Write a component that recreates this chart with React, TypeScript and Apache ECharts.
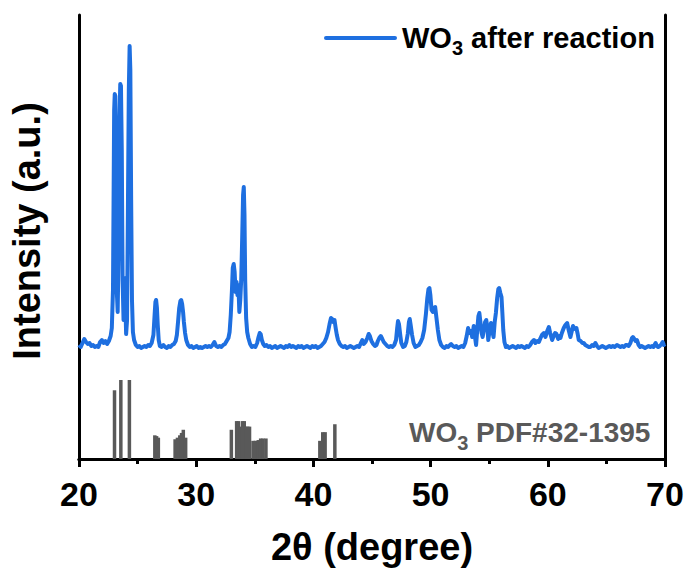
import React, { useEffect, useRef } from "react";
import * as echarts from "echarts";

// 2θ range and tick labels
const xMin = 20;
const xMax = 70;
const xInterval = 10;

// Measured pattern: [2θ (degree), intensity (a.u.)]
const xrdData: [number, number][] = [
  [20.0, 114], [20.15, 112], [20.3, 116], [20.45, 120], [20.6, 117], [20.75, 115], [20.9, 116],
  [21.05, 113], [21.2, 114], [21.35, 112], [21.5, 113], [21.65, 112], [21.8, 117], [21.95, 119],
  [22.1, 116], [22.25, 118], [22.4, 115], [22.55, 118], [22.7, 123], [22.8, 131], [22.9, 169],
  [22.95, 259], [23.0, 349], [23.05, 365], [23.1, 363], [23.15, 299], [23.22, 169], [23.3, 147],
  [23.38, 209], [23.45, 339], [23.52, 375], [23.58, 373], [23.65, 309], [23.72, 179], [23.8, 139],
  [23.88, 181], [23.95, 159], [24.02, 125], [24.1, 139], [24.18, 259], [24.25, 369], [24.32, 413],
  [24.38, 389], [24.45, 259], [24.52, 159], [24.6, 127], [24.7, 119], [24.85, 114], [25.0, 112],
  [25.15, 113], [25.3, 111], [25.45, 112], [25.6, 113], [25.75, 112], [25.9, 114], [26.05, 113],
  [26.2, 116], [26.35, 124], [26.45, 144], [26.52, 157], [26.58, 159], [26.65, 151], [26.72, 134],
  [26.8, 119], [26.9, 113], [27.05, 112], [27.2, 114], [27.35, 112], [27.5, 111], [27.65, 113],
  [27.8, 112], [27.95, 114], [28.1, 115], [28.25, 118], [28.35, 124], [28.45, 137], [28.55, 151],
  [28.65, 158], [28.72, 159], [28.8, 155], [28.88, 147], [28.95, 137], [29.05, 126], [29.15, 119],
  [29.3, 114], [29.45, 112], [29.6, 113], [29.75, 111], [29.9, 112], [30.05, 113], [30.2, 111],
  [30.35, 112], [30.5, 111], [30.65, 112], [30.8, 113], [30.95, 112], [31.1, 113], [31.25, 112],
  [31.4, 114], [31.55, 117], [31.7, 113], [31.85, 112], [32.0, 113], [32.15, 112], [32.3, 114],
  [32.45, 115], [32.6, 118], [32.75, 121], [32.85, 127], [32.95, 144], [33.05, 169], [33.12, 191],
  [33.2, 195], [33.28, 187], [33.36, 167], [33.44, 177], [33.52, 164], [33.6, 174], [33.68, 147],
  [33.76, 159], [33.84, 179], [33.92, 219], [34.0, 264], [34.06, 272], [34.12, 244], [34.18, 179],
  [34.26, 141], [34.35, 127], [34.45, 121], [34.6, 115], [34.75, 112], [34.9, 113], [35.05, 112],
  [35.2, 116], [35.32, 122], [35.42, 126], [35.5, 125], [35.6, 119], [35.72, 115], [35.85, 113],
  [36.0, 114], [36.15, 112], [36.3, 113], [36.45, 111], [36.6, 112], [36.75, 113], [36.9, 111],
  [37.05, 112], [37.2, 113], [37.35, 112], [37.5, 111], [37.65, 113], [37.8, 112], [37.95, 114],
  [38.1, 112], [38.25, 113], [38.4, 112], [38.55, 111], [38.7, 113], [38.85, 112], [39.0, 113],
  [39.15, 111], [39.3, 112], [39.45, 113], [39.6, 112], [39.75, 111], [39.9, 113], [40.05, 112],
  [40.2, 113], [40.35, 111], [40.5, 112], [40.65, 113], [40.8, 115], [40.95, 117], [41.1, 121],
  [41.25, 127], [41.38, 135], [41.5, 141], [41.6, 140], [41.7, 137], [41.8, 139], [41.9, 131],
  [42.0, 124], [42.1, 119], [42.25, 115], [42.4, 113], [42.55, 112], [42.7, 113], [42.85, 111],
  [43.0, 112], [43.15, 113], [43.3, 112], [43.45, 111], [43.6, 112], [43.75, 113], [43.9, 112],
  [44.05, 116], [44.17, 119], [44.3, 115], [44.45, 117], [44.6, 121], [44.72, 125], [44.82, 123],
  [44.95, 118], [45.1, 115], [45.25, 113], [45.38, 114], [45.5, 118], [45.62, 121], [45.75, 123],
  [45.88, 120], [46.0, 117], [46.15, 115], [46.3, 113], [46.45, 112], [46.6, 113], [46.75, 112],
  [46.9, 114], [47.05, 119], [47.15, 131], [47.22, 138], [47.3, 135], [47.4, 125], [47.5, 116],
  [47.65, 112], [47.8, 113], [47.93, 117], [48.05, 125], [48.15, 137], [48.22, 140], [48.3, 134],
  [48.42, 124], [48.55, 116], [48.7, 112], [48.85, 113], [49.0, 114], [49.15, 117], [49.3, 121],
  [49.45, 129], [49.6, 145], [49.72, 161], [49.82, 170], [49.9, 171], [49.98, 164], [50.08, 149],
  [50.19, 147], [50.3, 151], [50.39, 152], [50.5, 141], [50.62, 129], [50.75, 119], [50.9, 114],
  [51.05, 112], [51.2, 111], [51.35, 113], [51.5, 112], [51.65, 114], [51.75, 115], [51.9, 113],
  [52.05, 112], [52.2, 113], [52.35, 111], [52.5, 112], [52.65, 113], [52.8, 112], [52.95, 116],
  [53.08, 123], [53.2, 131], [53.32, 126], [53.45, 128], [53.55, 122], [53.68, 133], [53.8, 121],
  [53.88, 114], [53.98, 129], [54.08, 143], [54.16, 146], [54.25, 137], [54.35, 126], [54.44, 122],
  [54.55, 129], [54.65, 137], [54.75, 139], [54.85, 131], [54.92, 119], [55.02, 127], [55.15, 136],
  [55.25, 129], [55.37, 122], [55.47, 137], [55.57, 146], [55.68, 161], [55.78, 170], [55.85, 171],
  [55.95, 166], [56.05, 162], [56.12, 147], [56.2, 129], [56.3, 117], [56.42, 112], [56.55, 113],
  [56.7, 111], [56.85, 112], [57.0, 113], [57.15, 112], [57.3, 111], [57.45, 113], [57.6, 112],
  [57.75, 113], [57.9, 112], [58.05, 111], [58.2, 113], [58.35, 112], [58.5, 114], [58.65, 117],
  [58.82, 119], [58.95, 116], [59.1, 118], [59.24, 117], [59.38, 121], [59.5, 124], [59.67, 126],
  [59.8, 122], [59.95, 128], [60.09, 132], [60.2, 126], [60.37, 119], [60.5, 123], [60.62, 126],
  [60.74, 125], [60.88, 120], [61.0, 123], [61.08, 121], [61.2, 126], [61.36, 131], [61.5, 134],
  [61.65, 136], [61.78, 129], [61.93, 122], [62.05, 128], [62.15, 133], [62.21, 133], [62.32, 130],
  [62.44, 131], [62.55, 125], [62.64, 119], [62.8, 118], [62.95, 116], [63.07, 116], [63.2, 114],
  [63.35, 113], [63.5, 112], [63.63, 112], [63.78, 114], [63.92, 113], [64.06, 116], [64.2, 113],
  [64.34, 111], [64.5, 112], [64.65, 113], [64.8, 112], [64.95, 111], [65.1, 112], [65.25, 113],
  [65.4, 112], [65.55, 113], [65.7, 112], [65.9, 114], [66.05, 113], [66.2, 112], [66.35, 113],
  [66.5, 112], [66.65, 114], [66.75, 114], [66.9, 113], [67.05, 116], [67.18, 121], [67.26, 122],
  [67.38, 120], [67.5, 118], [67.6, 119], [67.75, 114], [67.88, 112], [68.0, 113], [68.15, 112],
  [68.3, 111], [68.45, 112], [68.6, 113], [68.75, 112], [68.9, 113], [69.01, 112], [69.2, 116],
  [69.3, 113], [69.42, 112], [69.55, 113], [69.7, 115], [69.8, 117], [69.9, 114], [70.0, 115],
];

// Reference card WO3 PDF#32-1395: positions (2θ) and relative intensities
const pdfAngles = [
  23.03, 23.57, 24.3,
  26.47, 26.62, 26.77,
  28.2, 28.4, 28.6, 28.75, 28.9, 29.1,
  33.0, 33.45, 33.6, 33.75, 33.95, 34.1, 34.25, 34.4, 34.55,
  34.85, 35.05, 35.3, 35.5, 35.7, 35.95,
  40.55, 40.8, 41.0, 41.83,
];
const pdfIntensity = [
  87, 100, 100,
  30, 29, 27,
  25, 27, 30, 33, 37, 27,
  37, 48, 48, 41, 48, 48, 41, 41, 41,
  23, 23, 24, 26, 26, 26,
  23, 34, 34, 44,
];

const sampleName = "WO3 after reaction";
const refName = "WO3 PDF#32-1395";
const formulaMain = "WO";
const formulaSub = "3";
const sampleSuffix = " after reaction";
const refSuffix = " PDF#32-1395";
const xTitle = "2θ (degree)";
const yTitle = "Intensity (a.u.)";

const FONT = "'Liberation Sans', Arial, Helvetica, sans-serif";
const BLUE = "#1E6FE0";
const GREY = "#595959";

// Arial/Liberation Sans Bold advance widths (em) for laying out formula pieces
const W_WO = 0.944 + 0.778;
const W_DIGIT = 0.556;

function formulaLabel(x: number, y: number, size: number, subSize: number, subDy: number, suffix: string, color: string, name: string) {
  const font = (s: number) => `bold ${s}px ${FONT}`;
  const xSub = x + W_WO * size;
  const xSuffix = xSub + W_DIGIT * subSize;
  return [
    { type: "text", name: name + "-a", x, y, style: { text: formulaMain, font: font(size), fill: color, verticalAlign: "middle", align: "left" } },
    { type: "text", name: name + "-b", x: xSub, y: y + subDy, style: { text: formulaSub, font: font(subSize), fill: color, verticalAlign: "middle", align: "left" } },
    { type: "text", name: name + "-c", x: xSuffix, y, style: { text: suffix, font: font(size), fill: color, verticalAlign: "middle", align: "left" } },
  ];
}

export default function App() {
  const ref = useRef<HTMLDivElement>(null);

  useEffect(() => {
    if (!ref.current) return;
    const chart = echarts.init(ref.current, null, { renderer: "svg" });
    const sticks = pdfAngles.map((a, i) => [a, pdfIntensity[i]]);

    chart.setOption({
      animation: false,
      backgroundColor: "#fff",
      grid: { left: 76, right: 24, top: 15, bottom: 112, containLabel: false },
      graphic: [
        {
          type: "line",
          shape: { x1: 326, y1: 38, x2: 395, y2: 38 },
          style: { stroke: BLUE, lineWidth: 4, lineCap: "round" },
        },
        ...formulaLabel(402, 38, 29, 20, 9.5, sampleSuffix, "#000", sampleName),
        ...formulaLabel(409, 432.5, 28, 20, 10, refSuffix, GREY, refName),
      ],
      xAxis: [
        {
          type: "value",
          min: xMin,
          max: xMax,
          interval: xInterval,
          name: xTitle,
          nameLocation: "middle",
          nameGap: 69,
          nameTextStyle: { fontSize: 38, fontWeight: "bold", fontFamily: FONT, color: "#000" },
          axisLine: { show: true, lineStyle: { color: "#000", width: 3 } },
          axisTick: { show: true, inside: false, length: 8, lineStyle: { color: "#000", width: 3 } },
          minorTick: { show: true, splitNumber: 2, length: 5, lineStyle: { color: "#000", width: 3 } },
          axisLabel: { fontSize: 34, fontWeight: "bold", fontFamily: FONT, color: "#000", margin: 18 },
          splitLine: { show: false },
        },
        {
          type: "value",
          position: "top",
          min: xMin,
          max: xMax,
          axisLine: { show: true, lineStyle: { color: "#000", width: 3 } },
          axisTick: { show: false },
          axisLabel: { show: false },
          splitLine: { show: false },
        },
      ],
      yAxis: [
        {
          type: "value",
          min: 0,
          max: 444,
          name: yTitle,
          nameLocation: "middle",
          nameGap: 33,
          nameTextStyle: { fontSize: 38, fontWeight: "bold", fontFamily: FONT, color: "#000", padding: [0, 0, 0, 12] },
          axisLine: { show: true, lineStyle: { color: "#000", width: 3 } },
          axisTick: { show: false },
          axisLabel: { show: false },
          splitLine: { show: false },
        },
        {
          type: "value",
          position: "right",
          min: 0,
          max: 562,
          axisLine: { show: true, lineStyle: { color: "#000", width: 3 } },
          axisTick: { show: false },
          axisLabel: { show: false },
          splitLine: { show: false },
        },
      ],
      series: [
        {
          name: sampleName,
          type: "line",
          xAxisIndex: 0,
          yAxisIndex: 0,
          data: xrdData,
          showSymbol: false,
          symbol: "none",
          lineStyle: { color: BLUE, width: 4, join: "round" },
          itemStyle: { color: BLUE },
          z: 3,
        },
        {
          name: refName,
          type: "custom",
          xAxisIndex: 0,
          yAxisIndex: 1,
          data: sticks,
          encode: { x: 0, y: 1 },
          renderItem: (_params: any, api: any) => {
            const x = api.value(0);
            const h = api.value(1);
            const top = api.coord([x, h]);
            const base = api.coord([x, 0]);
            return {
              type: "rect",
              shape: { x: top[0] - 1.75, y: top[1], width: 3.5, height: base[1] - top[1] },
              style: { fill: GREY },
            };
          },
          z: 2,
        },
      ],
    });

    return () => chart.dispose();
  }, []);

  return <div ref={ref} style={{ width: 689, height: 571, position: "absolute", left: 0, top: 0 }} />;
}
